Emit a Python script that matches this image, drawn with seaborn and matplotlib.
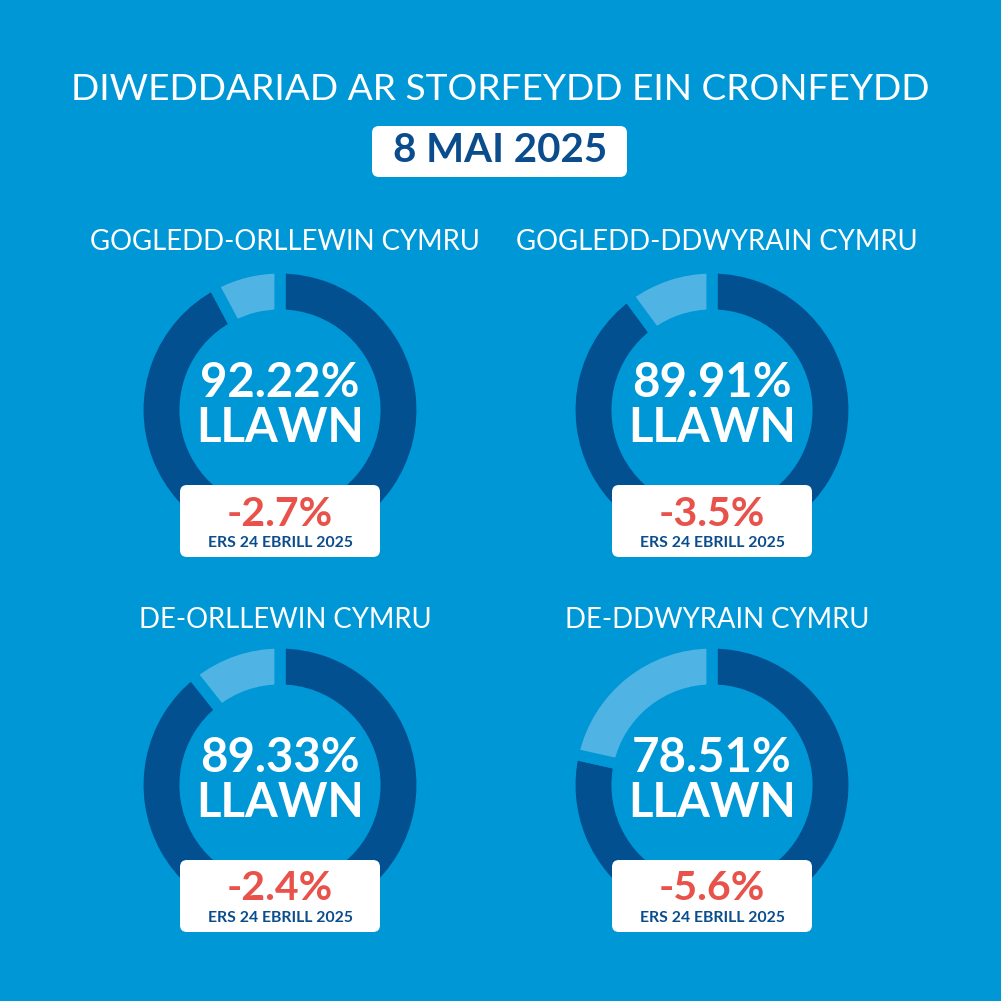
import numpy as np
import matplotlib
matplotlib.use('Agg')
import matplotlib.pyplot as plt
from matplotlib.patches import FancyBboxPatch
import seaborn as sns

# data
title = 'DIWEDDARIAD AR STORFEYDD EIN CRONFEYDD'
date_label = '8 MAI 2025'
regions = ['GOGLEDD-ORLLEWIN CYMRU', 'GOGLEDD-DDWYRAIN CYMRU',
           'DE-ORLLEWIN CYMRU', 'DE-DDWYRAIN CYMRU']
full_pct = [92.22, 89.91, 89.33, 78.51]
change_pct = [-2.7, -3.5, -2.4, -5.6]
since_label = 'ERS 24 EBRILL 2025'

# colours
BG = '#0097d7'
DARK = '#02508f'
LIGHT = '#4fb4e3'
RED = '#e8524a'
NAVY = '#0a4c8c'

sns.set_theme(style='white')
plt.rcParams['font.family'] = ['Lato', 'DejaVu Sans']

W = H = 1001
fig = plt.figure(figsize=(10.01, 10.01), dpi=100, facecolor=BG)
ax = fig.add_axes([0, 0, 1, 1])
ax.set_facecolor(BG)

def Y(y):
    # screen y (top-down) -> data y
    return H - y

ax.text(500, Y(89), title, color='white', fontsize=26.7, ha='center', va='center')
ax.add_patch(FancyBboxPatch((372, Y(177)), 255, 51, boxstyle='round,pad=0,rounding_size=7',
                            fc='white', ec='none'))
ax.text(500, Y(151), date_label, color=NAVY, fontsize=29, ha='center', va='center',
        fontweight='bold')

cxs = [280, 712, 280, 712]
cys = [410, 410, 785, 785]
title_ys = [242, 242, 620, 620]

for i, name in enumerate(regions):
    cx, cy = cxs[i], Y(cys[i])
    ax.pie([full_pct[i], 100 - full_pct[i]], center=(cx, cy), radius=142,
           startangle=90, counterclock=False, colors=[DARK, LIGHT],
           wedgeprops=dict(width=47, edgecolor=BG, linewidth=8))
    ax.text(cx + 5, Y(title_ys[i]), name, color='white', fontsize=19.8,
            ha='center', va='center')
    ax.text(cx, cy + 27, f'{full_pct[i]:.2f}%', color='white', fontsize=34,
            ha='center', va='center', fontweight='bold')
    ax.text(cx, cy - 18, 'LLAWN', color='white', fontsize=34,
            ha='center', va='center', fontweight='bold')
    ax.add_patch(FancyBboxPatch((cx - 100, cy - 147), 200, 72,
                                boxstyle='round,pad=0,rounding_size=7',
                                fc='white', ec='none', zorder=5))
    ax.text(cx, cy - 104, f'{change_pct[i]:.1f}%', color=RED, fontsize=29.5,
            ha='center', va='center', fontweight='bold', zorder=6)
    ax.text(cx, cy - 133, since_label, color=NAVY, fontsize=11.3,
            ha='center', va='center', fontweight='bold', zorder=6)

ax.set_xlim(0, W)
ax.set_ylim(0, H)
ax.set_aspect('equal')
ax.axis('off')

fig.savefig('out.png', dpi=100, facecolor=BG)
